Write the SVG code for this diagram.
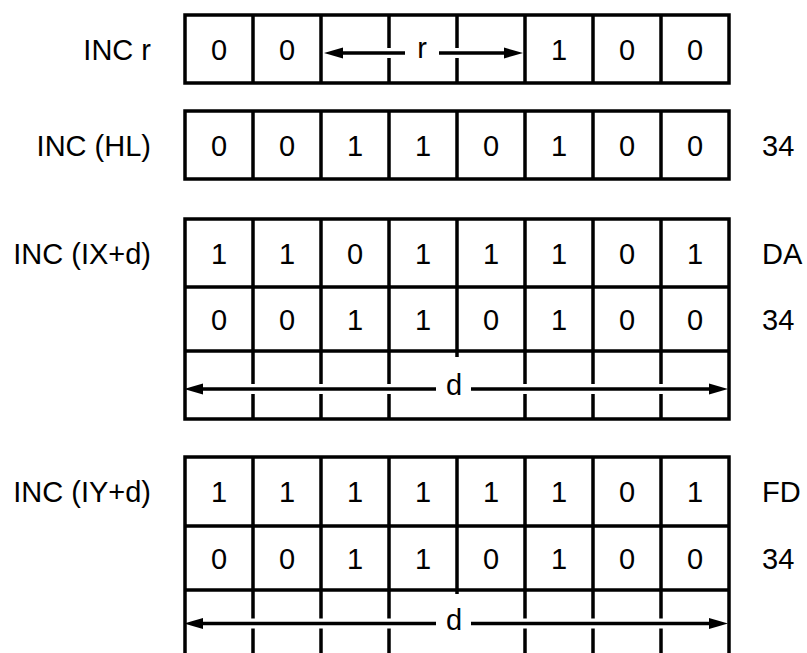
<svg xmlns="http://www.w3.org/2000/svg" width="807" height="653" viewBox="0 0 807 653">
<style>
  text { font-family: "Liberation Sans", Arial, sans-serif; font-size: 29px; fill: #000; }
  .lbl { text-anchor: end; }
  .code { text-anchor: start; }
  .bit { text-anchor: middle; }
  .box { fill: #fff; stroke: #000; stroke-width: 3.5; }
  .grid { fill: none; stroke: #000; stroke-width: 3.5; }
  .halo { fill: none; stroke: #fff; stroke-width: 10; }
  .arr { fill: none; stroke: #000; stroke-width: 3.5; marker-end: url(#ah); }
</style>
<defs>
  <marker id="ah" markerUnits="userSpaceOnUse" markerWidth="20" markerHeight="12" refX="0" refY="5.5" orient="auto" viewBox="0 0 20 11">
    <path d="M0,0 L19,5.5 L0,11 z" fill="#000"/>
  </marker>
</defs>
<rect width="807" height="653" fill="#fff"/>

<g id="inc-r">
  <text class="lbl" x="151" y="60">INC r</text>
  <rect class="box" x="185" y="15" width="544" height="68"/>
  <path class="grid" d="M253,15V83 M321,15V83 M389,15V83 M457,15V83 M525,15V83 M593,15V83 M661,15V83"/>
  <text class="bit" x="219" y="60">0</text>
  <text class="bit" x="287" y="60">0</text>
  <text class="bit" x="559" y="60">1</text>
  <text class="bit" x="627" y="60">0</text>
  <text class="bit" x="695" y="60">0</text>
</g>

<g id="inc-hl">
  <text class="lbl" x="151" y="155.5">INC (HL)</text>
  <rect class="box" x="185" y="111" width="544" height="68"/>
  <path class="grid" d="M253,111V179 M321,111V179 M389,111V179 M457,111V179 M525,111V179 M593,111V179 M661,111V179"/>
  <text class="bit" x="219" y="155.5">0</text>
  <text class="bit" x="287" y="155.5">0</text>
  <text class="bit" x="355" y="155.5">1</text>
  <text class="bit" x="423" y="155.5">1</text>
  <text class="bit" x="491" y="155.5">0</text>
  <text class="bit" x="559" y="155.5">1</text>
  <text class="bit" x="627" y="155.5">0</text>
  <text class="bit" x="695" y="155.5">0</text>
  <text class="code" x="762" y="155.5">34</text>
</g>

<g id="inc-ixd">
  <text class="lbl" x="151" y="263.5">INC (IX+d)</text>
  <rect class="box" x="185" y="219" width="544" height="200"/>
  <path class="grid" d="M185,287H729 M185,351H729 M253,219V419 M321,219V419 M389,219V419 M457,219V357 M525,219V419 M593,219V419 M661,219V419"/>
  <text class="bit" x="219" y="263.5">1</text>
  <text class="bit" x="287" y="263.5">1</text>
  <text class="bit" x="355" y="263.5">0</text>
  <text class="bit" x="423" y="263.5">1</text>
  <text class="bit" x="491" y="263.5">1</text>
  <text class="bit" x="559" y="263.5">1</text>
  <text class="bit" x="627" y="263.5">0</text>
  <text class="bit" x="695" y="263.5">1</text>
  <text class="code" x="762" y="263.5">DA</text>
  <text class="bit" x="219" y="329.5">0</text>
  <text class="bit" x="287" y="329.5">0</text>
  <text class="bit" x="355" y="329.5">1</text>
  <text class="bit" x="423" y="329.5">1</text>
  <text class="bit" x="491" y="329.5">0</text>
  <text class="bit" x="559" y="329.5">1</text>
  <text class="bit" x="627" y="329.5">0</text>
  <text class="bit" x="695" y="329.5">0</text>
  <text class="code" x="762" y="329.5">34</text>
</g>

<g id="inc-iyd">
  <text class="lbl" x="151" y="502">INC (IY+d)</text>
  <rect class="box" x="185" y="457" width="544" height="210"/>
  <path class="grid" d="M185,526H729 M185,590H729 M253,457V667 M321,457V667 M389,457V667 M457,457V594 M525,457V667 M593,457V667 M661,457V667"/>
  <text class="bit" x="219" y="502">1</text>
  <text class="bit" x="287" y="502">1</text>
  <text class="bit" x="355" y="502">1</text>
  <text class="bit" x="423" y="502">1</text>
  <text class="bit" x="491" y="502">1</text>
  <text class="bit" x="559" y="502">1</text>
  <text class="bit" x="627" y="502">0</text>
  <text class="bit" x="695" y="502">1</text>
  <text class="code" x="762" y="502">FD</text>
  <text class="bit" x="219" y="568.5">0</text>
  <text class="bit" x="287" y="568.5">0</text>
  <text class="bit" x="355" y="568.5">1</text>
  <text class="bit" x="423" y="568.5">1</text>
  <text class="bit" x="491" y="568.5">0</text>
  <text class="bit" x="559" y="568.5">1</text>
  <text class="bit" x="627" y="568.5">0</text>
  <text class="bit" x="695" y="568.5">0</text>
  <text class="code" x="762" y="568.5">34</text>
</g>

<g id="connectors">
  <path class="halo" d="M405,53H343 M439,53H504"/>
  <path class="arr" d="M405,53H343"/>
  <path class="arr" d="M439,53H504"/>
  <text class="bit" x="422" y="58">r</text>

  <path class="halo" d="M436,389H203 M471,389H709"/>
  <path class="arr" d="M436,389H203"/>
  <path class="arr" d="M471,389H709"/>
  <text class="bit" x="454" y="395">d</text>

  <path class="halo" d="M436,623.5H203 M471,623.5H709"/>
  <path class="arr" d="M436,623.5H203"/>
  <path class="arr" d="M471,623.5H709"/>
  <text class="bit" x="454" y="630">d</text>
</g>
</svg>
